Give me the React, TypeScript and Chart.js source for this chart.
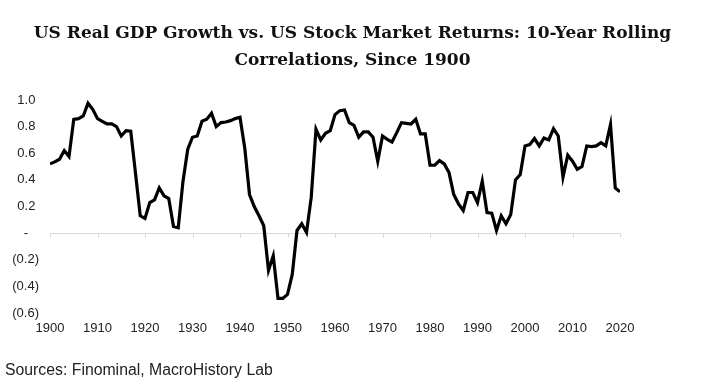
import React, { useEffect, useRef } from "react";
import { Chart, registerables } from "chart.js";

Chart.register(...registerables);

const titleLines = [
  "US Real GDP Growth vs. US Stock Market Returns: 10-Year Rolling",
  "Correlations, Since 1900",
];
const sourceText = "Sources: Finominal, MacroHistory Lab";

const firstYear = 1900;
const lastYear = 2020;
const years: number[] = [];
for (let y = firstYear; y <= lastYear; y++) years.push(y);

// 10-year rolling correlation, 1900..2020
const correlations = [
  0.52, 0.535, 0.555, 0.62, 0.575, 0.855, 0.86, 0.88, 0.975, 0.93,
  0.86, 0.84, 0.82, 0.82, 0.8, 0.73, 0.77, 0.765, 0.45, 0.13,
  0.11, 0.23, 0.25, 0.34, 0.28, 0.26, 0.05, 0.04, 0.39, 0.63,
  0.72, 0.73, 0.84, 0.855, 0.9, 0.8, 0.83, 0.835, 0.845, 0.86,
  0.87, 0.64, 0.29, 0.2, 0.13, 0.055, -0.28, -0.17, -0.49, -0.49,
  -0.46, -0.31, 0.02, 0.07, 0.005, 0.27, 0.78, 0.7, 0.75, 0.77,
  0.89, 0.92, 0.925, 0.83, 0.81, 0.72, 0.76, 0.76, 0.72, 0.54,
  0.73, 0.705, 0.685, 0.755, 0.83, 0.825, 0.82, 0.855, 0.745, 0.745,
  0.51, 0.51, 0.545, 0.52, 0.455, 0.29, 0.22, 0.17, 0.305, 0.305,
  0.23, 0.39, 0.155, 0.15, 0.02, 0.13, 0.07, 0.14, 0.4, 0.44,
  0.655, 0.665, 0.71, 0.655, 0.715, 0.7, 0.785, 0.73, 0.42, 0.585,
  0.54, 0.48, 0.5, 0.655, 0.65, 0.655, 0.68, 0.655, 0.815, 0.34,
  0.31,
];

const yMin = -0.6;
const yMax = 1.0;
const yStep = 0.2;
const xStep = 10;

function formatY(v: number): string {
  if (Math.abs(v) < 1e-9) return "-   ";
  if (v < 0) return `(${(-v).toFixed(1)})`;
  return `${v.toFixed(1)} `;
}

const zeroLinePlugin = {
  id: "zeroLine",
  beforeDatasetsDraw(chart: any) {
    const { ctx, scales } = chart;
    const xs = scales.x;
    const ys = scales.y;
    const y0 = Math.round(ys.getPixelForValue(0)) + 0.5;
    const xa = xs.getPixelForValue(firstYear);
    const xb = xs.getPixelForValue(lastYear);
    ctx.save();
    ctx.strokeStyle = "#d9d9d9";
    ctx.lineWidth = 1;
    ctx.beginPath();
    ctx.moveTo(xa, y0);
    ctx.lineTo(xb, y0);
    for (let yr = firstYear; yr <= lastYear; yr += xStep) {
      const px = Math.round(xs.getPixelForValue(yr)) + 0.5;
      ctx.moveTo(px, y0);
      ctx.lineTo(px, y0 + 4);
    }
    ctx.stroke();
    ctx.restore();
  },
};

export default function App() {
  const ref = useRef<HTMLCanvasElement | null>(null);

  useEffect(() => {
    if (!ref.current) return;
    const chart = new Chart(ref.current, {
      type: "line",
      data: {
        datasets: [
          {
            data: years.map((yr, i) => ({ x: yr, y: correlations[i] })),
            borderColor: "#000000",
            borderWidth: 3.2,
            pointRadius: 0,
            tension: 0,
            fill: false,
          },
        ],
      },
      options: {
        animation: false,
        responsive: false,
        maintainAspectRatio: false,
        layout: { padding: { left: 0, right: 85, top: 100, bottom: 45 } },
        plugins: {
          legend: { display: false },
          tooltip: { enabled: false },
          title: { display: false },
        },
        scales: {
          x: {
            type: "linear",
            min: firstYear,
            max: lastYear,
            grid: { display: false, drawTicks: false },
            border: { display: false },
            afterFit: (s: any) => {
              s.height = 30;
            },
            ticks: {
              stepSize: xStep,
              padding: 8,
              color: "#222222",
              font: { family: "Liberation Sans, Arial, sans-serif", size: 13 },
              callback: (v: any) => String(v),
              maxRotation: 0,
              autoSkip: false,
            },
          },
          y: {
            min: yMin,
            max: yMax,
            grid: { display: false, drawTicks: false },
            border: { display: false },
            afterFit: (s: any) => {
              s.width = 50;
            },
            ticks: {
              stepSize: yStep,
              padding: 11,
              color: "#222222",
              font: { family: "Liberation Sans, Arial, sans-serif", size: 13 },
              callback: (v: any) => formatY(Number(v)),
            },
          },
        },
      },
      plugins: [zeroLinePlugin],
    });
    return () => chart.destroy();
  }, []);

  return (
    <div
      style={{
        position: "fixed",
        left: 0,
        top: 0,
        width: 705,
        height: 388,
        background: "#ffffff",
        overflow: "hidden",
      }}
    >
      <canvas
        ref={ref}
        width={705}
        height={388}
        style={{ position: "absolute", left: 0, top: 0, width: 705, height: 388 }}
      />
      <div
        style={{
          position: "absolute",
          left: 0,
          top: 19,
          width: 705,
          textAlign: "center",
          fontFamily: "'DejaVu Serif', Georgia, serif",
          fontWeight: "bold",
          fontSize: 17,
          lineHeight: "27px",
          color: "#111111",
        }}
      >
        {titleLines.map((t, i) => (
          <div key={i}>{t}</div>
        ))}
      </div>
      <div
        style={{
          position: "absolute",
          left: 5,
          top: 360,
          fontFamily: "'Liberation Sans', Arial, sans-serif",
          fontSize: 15.8,
          lineHeight: "20px",
          color: "#222222",
          whiteSpace: "nowrap",
        }}
      >
        {sourceText}
      </div>
    </div>
  );
}
